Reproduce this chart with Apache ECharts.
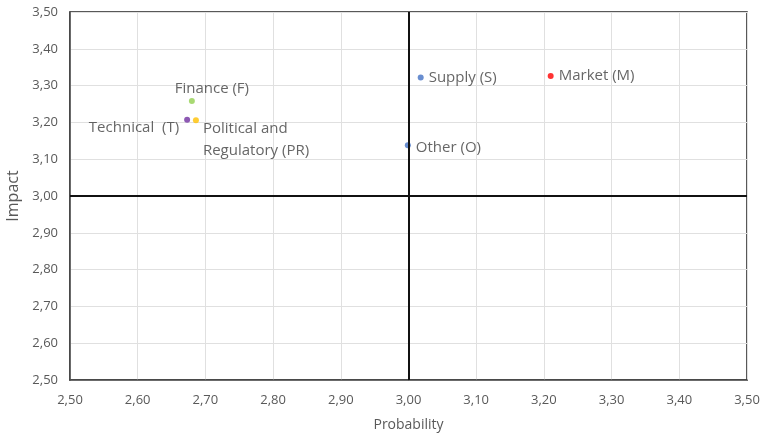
<!DOCTYPE html>
<html>
<head>
<meta charset="utf-8">
<script src="https://cdn.jsdelivr.net/npm/echarts@6/dist/echarts.min.js"></script>
<style>
  html, body { margin: 0; padding: 0; background: #fff; }
  #chart { width: 765px; height: 436px; }
</style>
</head>
<body>
<div id="chart"></div>
<script>
// Données
const noms = ['Finance (F)', 'Technical  (T)', 'Political and\nRegulatory (PR)', 'Supply (S)', 'Market (M)', 'Other (O)'];
const probabilite = [2.68, 2.673, 2.686, 3.018, 3.21, 2.999];
const impact = [3.258, 3.207, 3.206, 3.322, 3.326, 3.138];
const couleurs = ['#92d050', '#7030a0', '#ffc000', '#4472c4', '#ff0000', '#4472c4'];
const positions = ['top', 'left', 'right', 'right', 'right', 'right'];
const decalages = [[20, 7], [0, 8], [-1, 20], [0, 0], [0, 0], [0, 3]];

const texteAxe = { color: '#595959', fontSize: 13, fontFamily: 'Open Sans' };

const chart = echarts.init(document.getElementById('chart'));
const option = {
    backgroundColor: '#fff',
    animation: false,
    grid: {
        left: 70, right: 18, top: 12, bottom: 56,
        outerBoundsMode: 'none',
        show: true, borderColor: '#222', borderWidth: 1.5
    },
    xAxis: {
        type: 'value', min: 2.5, max: 3.5, interval: 0.1,
        name: 'Probability', nameLocation: 'middle', nameGap: 38,
        nameTextStyle: { color: '#595959', fontSize: 14, fontFamily: 'Open Sans' },
        axisLabel: Object.assign({ formatter: v => v.toFixed(2).replace('.', ','), margin: 14 }, texteAxe),
        axisLine: { lineStyle: { color: '#444', width: 1.5 } },
        axisTick: { show: false },
        splitLine: { lineStyle: { color: '#e0e0e0' } }
    },
    yAxis: {
        type: 'value', min: 2.5, max: 3.5, interval: 0.1,
        name: 'Impact', nameLocation: 'middle', nameGap: 47,
        nameTextStyle: { color: '#595959', fontSize: 16, fontFamily: 'Open Sans' },
        axisLabel: Object.assign({ formatter: v => v.toFixed(2).replace('.', ','), margin: 12 }, texteAxe),
        axisLine: { lineStyle: { color: '#444', width: 1.5 } },
        axisTick: { show: false },
        splitLine: { lineStyle: { color: '#e0e0e0' } }
    },
    series: [{
        type: 'scatter',
        symbolSize: 6,
        data: noms.map((n, i) => ({
            name: n,
            value: [probabilite[i], impact[i]],
            itemStyle: { color: couleurs[i] },
            label: { position: positions[i], offset: decalages[i] }
        })),
        label: {
            show: true,
            formatter: p => p.name,
            color: '#404040',
            fontSize: 15,
            fontFamily: 'Open Sans',
            distance: 5,
            lineHeight: 22
        },
        markLine: {
            silent: true,
            symbol: 'none',
            label: { show: false },
            lineStyle: { color: '#111', width: 2, type: 'solid' },
            data: [{ xAxis: 3 }, { yAxis: 3 }]
        }
    }]
};
chart.setOption(option);
</script>
</body>
</html>
